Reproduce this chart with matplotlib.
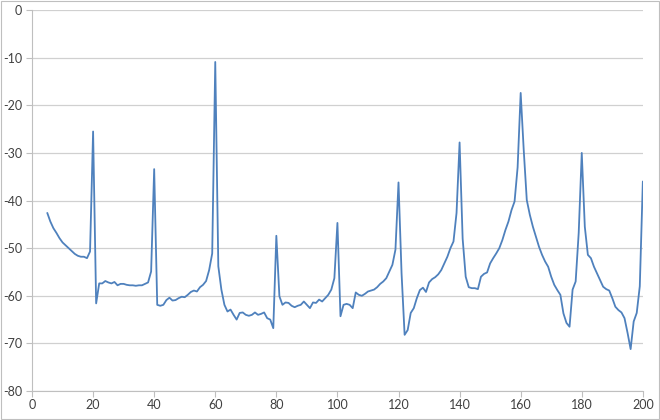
import matplotlib
matplotlib.use("Agg")
import matplotlib.pyplot as plt

# x positions (one reading per unit, 5..200)
x_start = 5
x_end = 200

# one value per x
values = [
    -42.6, -44.4, -45.8, -46.8, -47.9, -48.8, -49.4, -50.0, -50.6, -51.2,   # 5-14
    -51.6, -51.8, -51.8, -52.1, -50.7, -25.5, -61.6, -57.4, -57.4, -56.9,   # 15-24
    -57.2, -57.4, -57.1, -57.8, -57.5, -57.5, -57.7, -57.8, -57.8, -57.9,   # 25-34
    -57.8, -57.8, -57.5, -57.2, -54.9, -33.4, -61.9, -62.1, -61.9, -60.9,   # 35-44
    -60.4, -61.0, -60.9, -60.5, -60.2, -60.3, -59.8, -59.2, -58.9, -59.1,   # 45-54
    -58.2, -57.7, -56.9, -54.6, -51.1, -10.9, -53.8, -58.7, -61.9, -63.3,   # 55-64
    -62.9, -64.0, -65.0, -63.6, -63.5, -64.0, -64.2, -64.0, -63.5, -64.0,   # 65-74
    -63.8, -63.5, -64.7, -65.0, -66.8, -47.4, -60.1, -61.9, -61.4, -61.5,   # 75-84
    -62.1, -62.4, -62.1, -61.9, -61.2, -61.9, -62.6, -61.4, -61.5, -60.8,   # 85-94
    -61.2, -60.5, -59.8, -58.7, -56.3, -44.7, -64.3, -61.9, -61.7, -61.9,   # 95-104
    -62.6, -59.3, -59.8, -60.0, -59.6, -59.1, -58.9, -58.7, -58.2, -57.5,   # 105-114
    -57.0, -56.3, -54.9, -53.5, -50.3, -36.2, -55.3, -68.2, -67.2, -63.6,   # 115-124
    -62.6, -60.5, -58.8, -58.3, -59.2, -57.2, -56.5, -56.1, -55.5, -54.6,   # 125-134
    -53.2, -51.8, -50.0, -48.6, -42.6, -27.8, -48.0, -56.0, -58.2, -58.4,   # 135-144
    -58.4, -58.6, -56.0, -55.4, -55.1, -53.2, -52.1, -51.1, -50.0, -48.3,   # 145-154
    -46.2, -44.4, -42.0, -40.2, -33.0, -17.4, -29.4, -39.9, -43.0, -45.5,   # 155-164
    -47.6, -49.7, -51.4, -52.8, -53.9, -56.0, -57.7, -58.8, -59.8, -63.7,   # 165-174
    -65.7, -66.5, -58.7, -57.0, -46.8, -30.0, -45.5, -51.4, -52.1, -53.9,   # 175-184
    -55.3, -56.7, -58.1, -58.6, -58.9, -60.5, -62.3, -63.0, -63.5, -64.7,   # 185-194
    -67.8, -71.2, -65.4, -63.6, -58.0, -36.0,                               # 195-200
]
x = list(range(x_start, x_end + 1))

x_ticks = [0, 20, 40, 60, 80, 100, 120, 140, 160, 180, 200]
y_ticks = [0, -10, -20, -30, -40, -50, -60, -70, -80]

plt.rcParams['font.family'] = ['Lato', 'DejaVu Sans']

fig = plt.figure(figsize=(6.6, 4.2), dpi=100)
ax = fig.add_axes([0.0485, 0.069, 0.9255, 0.907])

ax.plot(x, values, color="#4F81BD", linewidth=1.3,
        solid_joinstyle="round", solid_capstyle="round")

ax.set_xlim(0, 200)
ax.set_ylim(-80, 0)
ax.set_xticks(x_ticks)
ax.set_yticks(y_ticks)
ax.set_yticklabels([str(v) for v in y_ticks])

ax.grid(axis="y", color="#D0D0D0", linewidth=0.9)
ax.set_axisbelow(True)
for side in ["top", "right"]:
    ax.spines[side].set_visible(False)
for side in ["left", "bottom"]:
    ax.spines[side].set_color("#BFBFBF")
    ax.spines[side].set_linewidth(0.8)
ax.tick_params(axis="both", colors="#BFBFBF", labelcolor="#404040",
               labelsize=9, length=4, width=0.8, direction="out")
ax.tick_params(axis="y", pad=3)
ax.tick_params(axis="x", pad=2)

# light frame around the whole chart
frame = plt.Rectangle((0.001, 0.002), 0.997, 0.996, transform=fig.transFigure,
                      fill=False, edgecolor="#BFBFBF", linewidth=0.8)
fig.patches.append(frame)

fig.savefig("out.png", dpi=100)
